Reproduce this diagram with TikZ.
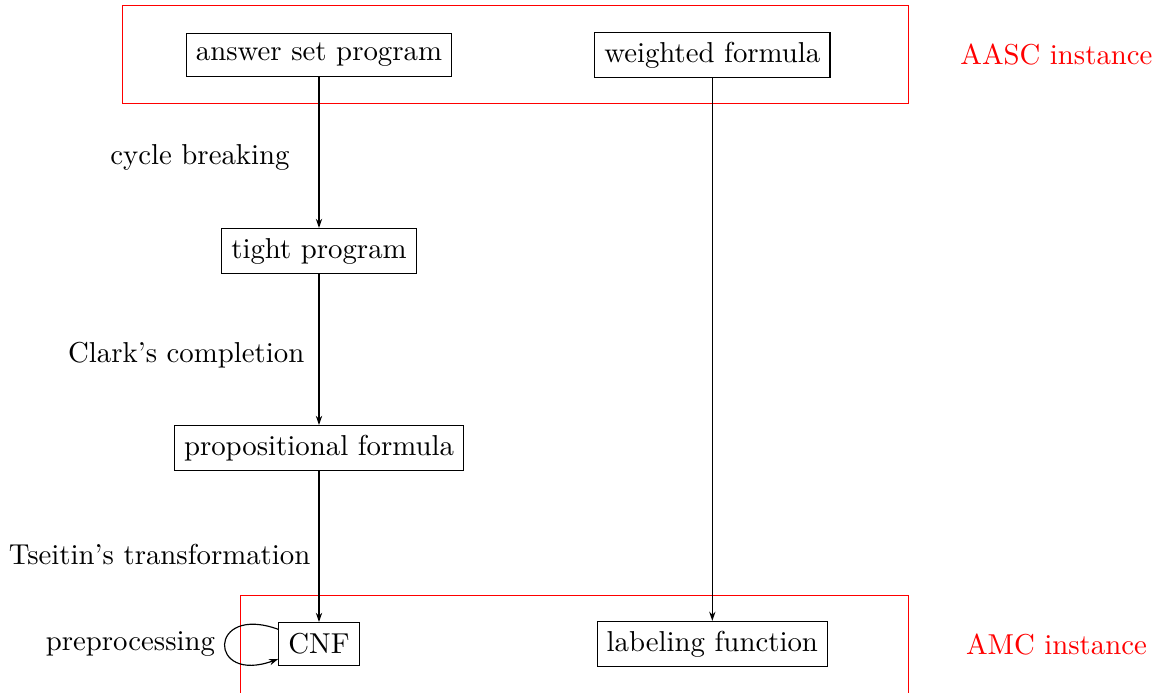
\documentclass[tikz,border=0pt]{standalone}
\usetikzlibrary{arrows.meta, positioning, calc}
\definecolor{frameRed}{HTML}{FF0000}
\tikzset{
  arrowK/.style={-{Stealth[length=3.2pt, width=2.2pt]}, black},
  boxW/.style={rectangle, draw=black, fill=white, minimum height=15pt,
               inner sep=3.33pt},
  frameR/.style={draw=frameRed},
  tagR/.style={text=frameRed},
  stepLbl/.style={inner sep=0pt},
}

\begin{document}
\begin{tikzpicture}[node distance=1.84cm]
    \useasboundingbox (-3.893,0.671) rectangle (10.361,-7.774);
    % instance frames
    \draw[frameR] (-2.40,0.60) rectangle (7.19,-0.59);
    \draw[frameR] (-0.96,-6.60) rectangle (7.19,-7.80);

    \node[boxW] (asp) at (0,0) {answer set program};
    \node[boxW] (wf) at (4.80,0) {weighted formula};
    \node[boxW, below=of asp] (tight) {tight program};
    \node[boxW, below=of tight] (prop) {propositional formula};
    \node[boxW, below=of prop] (cnf) {CNF};
    \node[boxW] (lab) at (wf |- cnf) {labeling function};

    \node[tagR] (aasc) at (9,0) {AASC instance};
    \node[tagR] (amc) at (aasc |- cnf) {AMC instance};

    \draw[arrowK] (asp) -- node[stepLbl, pos=.53, left=10pt] {cycle breaking} (tight);
    \draw[arrowK] (tight) -- node[stepLbl, pos=.54, left=4.9pt] {Clark's completion} (prop);
    \draw[arrowK] (prop) -- node[stepLbl, pos=.55, left=2.8pt] {Tseitin's transformation} (cnf);
    \draw[arrowK] (wf) -- (lab);
    \draw[arrowK] (cnf) to[out=160, in=200, looseness=6.5] node[left] {preprocessing} (cnf);
\end{tikzpicture}
\end{document}
